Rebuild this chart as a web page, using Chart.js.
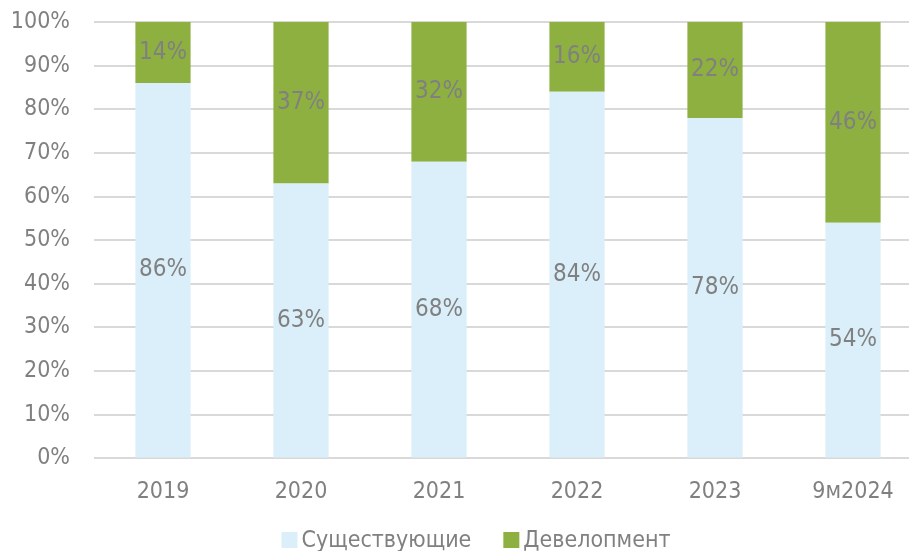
<!DOCTYPE html>
<html>
<head>
<meta charset="utf-8">
<script src="https://cdn.jsdelivr.net/npm/chart.js"></script>
<style>
  html, body { margin: 0; padding: 0; background: #fff; overflow: hidden; }
  #wrap { width: 922px; height: 551px; position: relative; }
</style>
</head>
<body>
<div id="wrap"><canvas id="c"></canvas></div>
<script>
var YEARS = ["2019", "2020", "2021", "2022", "2023", "9м2024"];
var EXISTING = [86, 63, 68, 84, 78, 54];
var DEVELOPMENT = [14, 37, 32, 16, 22, 46];
var FONT = "'DejaVu Sans Condensed', 'DejaVu Sans', sans-serif";
var GREY = "#808080";

// draws the value in the middle of each segment
var segLabels = {
  id: "segLabels",
  afterDatasetsDraw: function (chart) {
    var ctx = chart.ctx;
    ctx.save();
    ctx.font = "24px " + FONT;
    ctx.fillStyle = GREY;
    ctx.textAlign = "center";
    ctx.textBaseline = "middle";
    chart.data.datasets.forEach(function (ds, i) {
      chart.getDatasetMeta(i).data.forEach(function (bar, j) {
        var mid = (bar.y + bar.base) / 2;
        ctx.fillText(ds.data[j] + "%", bar.x, mid);
      });
    });
    ctx.restore();
  }
};

// legend drawn by hand so the gaps match the original
var bottomLegend = {
  id: "bottomLegend",
  afterDraw: function (chart) {
    var ctx = chart.ctx;
    var y = 540;
    var box = 16, gap = 4, space = 32;
    ctx.save();
    ctx.font = "23px " + FONT;
    ctx.textBaseline = "middle";
    var items = chart.data.datasets.map(function (ds) {
      return { text: ds.label, color: ds.backgroundColor, w: box + gap + ctx.measureText(ds.label).width };
    });
    var total = items.reduce(function (a, it) { return a + it.w; }, 0) + space * (items.length - 1);
    var x = 476 - total / 2;
    items.forEach(function (it) {
      ctx.fillStyle = it.color;
      ctx.fillRect(x, y - box / 2, box, box);
      ctx.fillStyle = GREY;
      ctx.fillText(it.text, x + box + gap, y + 1);
      x += it.w + space;
    });
    ctx.restore();
  }
};

new Chart(document.getElementById("c"), {
  type: "bar",
  data: {
    labels: YEARS,
    datasets: [
      { label: "Существующие", data: EXISTING, backgroundColor: "#DAEFF9", barPercentage: 0.8, categoryPercentage: 0.5 },
      { label: "Девелопмент", data: DEVELOPMENT, backgroundColor: "#8DB040", barPercentage: 0.8, categoryPercentage: 0.5 }
    ]
  },
  options: {
    responsive: true,
    maintainAspectRatio: false,
    animation: false,
    layout: { padding: { top: 22, left: 0, right: 0, bottom: 33 } },
    plugins: {
      legend: { display: false },
      tooltip: { enabled: false }
    },
    scales: {
      x: {
        stacked: true,
        grid: { display: false },
        border: { display: false },
        ticks: { color: GREY, font: { family: FONT, size: 23 }, padding: 12 }
      },
      y: {
        stacked: true,
        min: 0,
        max: 100,
        afterFit: function (s) { s.width = 94; s.paddingTop = 0; s.paddingBottom = 0; },
        grid: { color: "#D9D9D9", lineWidth: 2, drawTicks: false },
        border: { display: false },
        ticks: {
          stepSize: 10,
          color: GREY,
          padding: 24,
          font: { family: FONT, size: 23 },
          callback: function (v) { return v + "%"; }
        }
      }
    }
  },
  plugins: [segLabels, bottomLegend]
});
</script>
</body>
</html>
